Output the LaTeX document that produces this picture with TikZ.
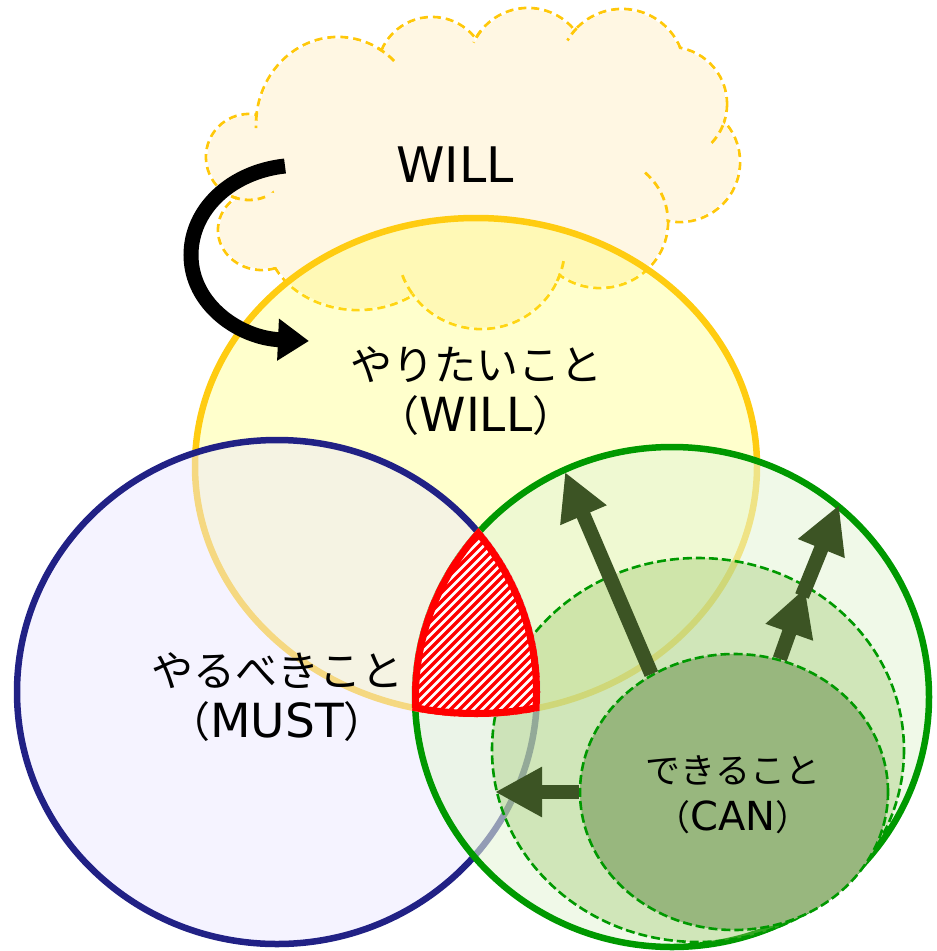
\documentclass[tikz,border=0pt]{standalone}
\usepackage{fontspec}
\setmainfont{Noto Sans CJK JP}
\newfontfamily\latn{DejaVu Sans}
\usetikzlibrary{arrows.meta,shapes.geometric}
\definecolor{cloudfill}{RGB}{255,247,227}
\definecolor{cloudline}{RGB}{255,200,10}
\definecolor{ylwring}{RGB}{255,204,17}
\definecolor{ylwfill}{RGB}{255,255,51}
\definecolor{bluering}{RGB}{33,33,133}
\definecolor{bluefill}{RGB}{234,230,255}
\definecolor{grnring}{RGB}{0,153,0}
\definecolor{grnfill}{RGB}{229,245,216}
\definecolor{midfill}{RGB}{149,195,98}
\definecolor{canfill}{RGB}{152,183,126}
\definecolor{olv}{RGB}{60,84,36}
\newcommand\cloudhook[6]{\draw[cloudedge] (#1,#2) ++({#3*cos(#5)},{#4*sin(#5)}) arc[start angle=#5, end angle=#6, x radius=#3, y radius=#4];}
\newcommand\latxt[2]{{\latn\fontsize{#1}{#1}\selectfont #2}}
\begin{document}
\begin{tikzpicture}[x=1pt,y=-1pt,
  cloudedge/.style={draw=cloudline, line width=2.8pt, dash pattern=on 8pt off 5pt},
  ring/.style={line width=6.5pt},
  dashring/.style={draw=grnring, line width=2.6pt, dash pattern=on 9pt off 4pt},
  olvarrow/.style={draw=olv, line width=14.5pt, -{Triangle[length=47pt,width=47pt]}},
  bigtxt/.style={font=\fontsize{42}{51}\selectfont, align=center, inner sep=0pt}]
\useasboundingbox (0,0) rectangle (937,951);
% ---------- cloud ----------
\def\lobes{249/157/43/43, 262/230/44/40, 358/235/92/75, 481/246/84/83, 600/222/68/66, 680/162/60/60, 670/104/57/57, 622/72/63/63, 528/68/60/60, 432/72/55/55, 338/125/82/88}
\foreach \cx/\cy/\rx/\ry in \lobes {
  \draw[cloudedge] (\cx,\cy) ellipse[x radius=\rx, y radius=\ry];
}
\foreach \cx/\cy/\rx/\ry in \lobes {
  \pgfmathsetmacro\ra{\rx-1.5}\pgfmathsetmacro\rb{\ry-1.5}
  \fill[cloudfill] (\cx,\cy) ellipse[x radius=\ra, y radius=\rb];
}
\fill[cloudfill] (470,170) ellipse[x radius=200, y radius=110];
\cloudhook{600}{222}{68}{66}{-8}{-50}
\cloudhook{670}{104}{57}{57}{22}{48}
\cloudhook{622}{72}{63}{63}{-136}{-150}
\cloudhook{528}{68}{60}{60}{-142}{-155}
\cloudhook{338}{125}{82}{88}{-61}{-45}
\cloudhook{249}{157}{43}{43}{113}{68}
\cloudhook{338}{125}{82}{88}{188}{178}
\cloudhook{481}{246}{84}{83}{145}{160}
\cloudhook{481}{246}{84}{83}{25}{10}
\node[inner sep=0pt] (cloudtxt) at (455,165) {\latxt{49}{WILL}};
% ---------- WILL circle ----------
\fill[ylwfill, fill opacity=0.25] (476,466) ellipse[x radius=281, y radius=248];
\draw[ylwring, ring] (476,466) ellipse[x radius=281, y radius=248];
% ---------- MUST circle ----------
\fill[bluefill, fill opacity=0.47] (277,692) ellipse[x radius=260, y radius=252];
\draw[bluering, ring] (277,692) ellipse[x radius=260, y radius=252];
% ---------- CAN circle ----------
\fill[grnfill, fill opacity=0.585] (672,697) ellipse[x radius=257, y radius=250];
\draw[grnring, ring] (672,697) ellipse[x radius=257, y radius=250];
% middle dashed ellipse
\fill[midfill, fill opacity=0.35] (698,750) ellipse[x radius=206, y radius=192];
\draw[dashring] (698,750) ellipse[x radius=206, y radius=192];
% inner ellipse
\node[ellipse, minimum width=308pt, minimum height=276pt, inner sep=0pt,
      fill=canfill, dashring] (can) at (734,792) {};
% ---------- hatched intersection ----------
\begin{scope}
  \clip (277,692) ellipse[x radius=263, y radius=255];
  \clip (672,697) ellipse[x radius=260, y radius=253];
  \clip (476,466) ellipse[x radius=284, y radius=251];
  \fill[white] (390,500) rectangle (570,740);
  \foreach \k in {240,249,...,560} \draw[red, line width=3.4pt] (\k,740) -- ++(240,-240);
  \draw[red, line width=14pt] (277,692) ellipse[x radius=263, y radius=255]
        (672,697) ellipse[x radius=260, y radius=253]
        (476,466) ellipse[x radius=284, y radius=251];
\end{scope}
% ---------- growth arrows ----------
\coordinate (t1) at (565,472);
\coordinate (t2) at (805,588);
\coordinate (t2s) at (802,596);
\coordinate (t3) at (839,505);
\coordinate (t4) at (495,792);
\draw[olvarrow] (can.125) -- (t1);
\draw[olvarrow] (can.71) -- (t2);
\draw[olvarrow] (t2s) -- (t3);
\draw[olvarrow] (can.west) -- (t4);
% ---------- texts ----------
\node[bigtxt] (want) at (476,391) {やりたいこと\\（\latxt{47}{WILL}）};
\node[bigtxt] (must) at (277,697) {やるべきこと\\（\latxt{47}{MUST}）};
\node[font=\fontsize{35}{47}\selectfont, align=center, inner sep=0pt]
      (cantxt) at (733,795) {できること\\（\latxt{40}{CAN}）};
% ---------- curved arrow ----------
\coordinate (cs) at (285,166);
\coordinate (ce) at (309,341);
\draw[black, line width=15pt, -{Triangle[length=31pt,width=40pt]}]
  (cs) .. controls (230,172) and (191,210) .. (191,255)
       .. controls (191,305) and (240,338) .. (ce);
\end{tikzpicture}
\end{document}
